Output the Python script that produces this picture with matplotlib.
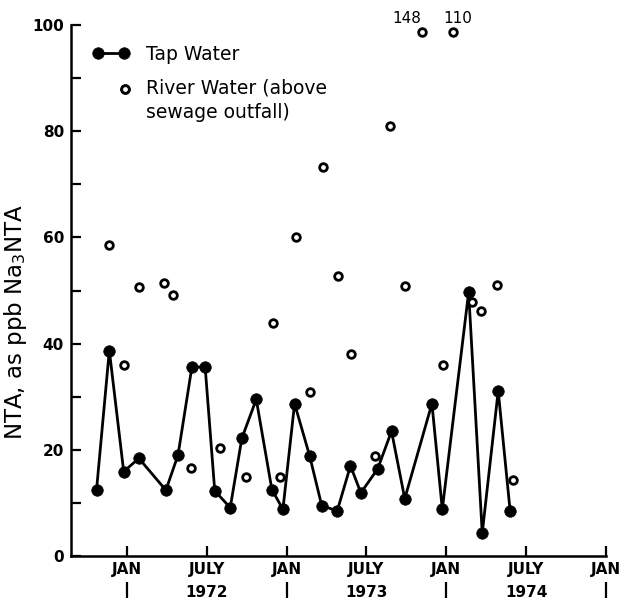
import numpy as np
import matplotlib
matplotlib.use("Agg")
import matplotlib.pyplot as plt
from matplotlib.legend_handler import HandlerLine2D

# sampling dates as decimal years
tap_t = [1971.81, 1971.89, 1971.98, 1972.075, 1972.244, 1972.32, 1972.407, 1972.49,
         1972.55, 1972.647, 1972.72, 1972.81, 1972.908, 1972.977, 1973.05, 1973.144,
         1973.22, 1973.317, 1973.40, 1973.465, 1973.57, 1973.657, 1973.74, 1973.91,
         1973.975, 1974.14, 1974.225, 1974.325, 1974.40]
tap_nta = [12.5, 38.7, 15.9, 18.4, 12.4, 19.0, 35.6, 35.6, 12.3, 9.1, 22.2, 29.5,
           12.5, 8.8, 28.7, 18.9, 9.5, 8.5, 17.0, 11.9, 16.4, 23.5, 10.8, 28.7,
           8.8, 49.7, 4.3, 31.1, 8.4]

river_t = [1971.89, 1971.98, 1972.077, 1972.233, 1972.29, 1972.40, 1972.585, 1972.745,
           1972.914, 1972.958, 1973.06, 1973.144, 1973.23, 1973.32, 1973.405, 1973.555,
           1973.65, 1973.74, 1973.85, 1973.98, 1974.04, 1974.16, 1974.22, 1974.315,
           1974.42]
river_nta = [58.6, 35.9, 50.6, 51.4, 49.2, 16.5, 20.4, 14.9, 43.8, 14.9, 60.0, 30.9,
             73.3, 52.7, 38.1, 18.9, 81.0, 50.8, 148, 36.0, 110, 47.8, 46.2, 51.0,
             14.3]

tick_pos = [1972.0, 1972.5, 1973.0, 1973.5, 1974.0, 1974.5, 1975.0]
tick_labels = ["JAN", "JULY", "JAN", "JULY", "JAN", "JULY", "JAN"]
years = ["1972", "1973", "1974"]
year_pos = [1972.5, 1973.5, 1974.5]
year_breaks = [1972.0, 1973.0, 1974.0, 1975.0]

TOP = 98.7  # off-scale points are drawn at the top of the axis


class TopRightMarker(HandlerLine2D):
    # one marker at the right end of the handle, level with the first label line
    def get_numpoints(self, legend):
        return 2

    def get_xdata(self, legend, xdescent, ydescent, width, height, fontsize):
        x = width - xdescent - 0.25 * fontsize
        return [x, x], [x, x]

    def create_artists(self, legend, orig_handle, xdescent, ydescent, width,
                       height, fontsize, trans):
        arts = super().create_artists(legend, orig_handle, xdescent, ydescent,
                                      width, height, fontsize, trans)
        for a in arts:
            a.set_ydata(np.asarray(a.get_ydata()) + 0.66 * fontsize)
        return arts


fig = plt.figure(figsize=(6.25, 6.03), dpi=100)
ax = fig.add_axes([0.1136, 0.0779, 0.856, 0.8806])

tap, = ax.plot(tap_t, tap_nta, color="black", lw=2, marker="o", ms=8.3, mew=0.5,
               label="Tap Water", zorder=3)
river_plot = np.minimum(river_nta, TOP)
river, = ax.plot(river_t, river_plot, ls="none", marker="o", ms=5.5, mew=2,
                 mfc="white", mec="black", label="River Water (above\nsewage outfall)",
                 zorder=4, clip_on=False)

off = [(t, v) for t, v in zip(river_t, river_nta) if v > 100]
for (t, v), dx in zip(off, [-11, 4]):
    ax.annotate(f"{v:g}", (t, TOP), xytext=(dx, 4.5), textcoords="offset points",
                ha="center", va="bottom", fontsize=11, annotation_clip=False)

ax.set_xlim(1971.65, 1975.0)
ax.set_ylim(0, 100)
ax.spines["top"].set_visible(False)
ax.spines["right"].set_visible(False)
for s in ("left", "bottom"):
    ax.spines[s].set_linewidth(1.8)

ax.set_xticks(tick_pos)
ax.set_xticklabels(tick_labels, fontweight="bold", fontsize=11)
ax.set_yticks([0, 20, 40, 60, 80, 100])
ax.set_yticks([10, 30, 50, 70, 90], minor=True)
ax.set_yticklabels(["0", "20", "40", "60", "80", "100"], fontweight="bold", fontsize=11)
ax.tick_params(axis="both", which="both", direction="in", width=1.6, length=7)
ax.tick_params(axis="x", pad=4)
ax.tick_params(axis="y", pad=5)

trans = ax.get_xaxis_transform()
ax.vlines(year_breaks, -0.079, -0.049, transform=trans, color="black", lw=1.6,
          clip_on=False)
for x, y in zip(year_pos, years):
    ax.text(x, -0.068, y, transform=trans, ha="center", va="center",
            fontsize=11, fontweight="bold")

ax.set_ylabel("NTA, as ppb Na$_3$NTA", fontsize=16.5)
ax.yaxis.set_label_coords(-0.079, 0.44)

leg = ax.legend(handles=[tap, river], loc="upper left", frameon=False,
                bbox_to_anchor=(92 / 625, 1 - 45 / 603), bbox_transform=fig.transFigure,
                fontsize=13.5, borderpad=0, borderaxespad=0, handlelength=2.0,
                handletextpad=0.9, labelspacing=0.75,
                handler_map={river: TopRightMarker(),
                             tap: HandlerLine2D(numpoints=2)})
for txt in leg.get_texts():
    txt.set_linespacing(1.4)

fig.savefig("out.png", dpi=100)
